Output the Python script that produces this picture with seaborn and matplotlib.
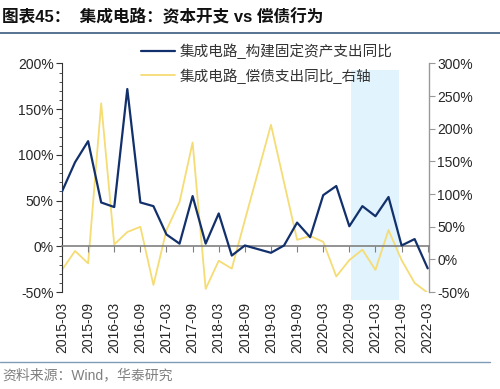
import matplotlib
matplotlib.use("Agg")
import matplotlib.pyplot as plt
from matplotlib.lines import Line2D
from matplotlib.ticker import MultipleLocator, FuncFormatter
import seaborn as sns
import pandas as pd

# quarterly data, 2015-03 .. 2022-03
quarters = ["2015-03", "2015-06", "2015-09", "2015-12", "2016-03", "2016-06", "2016-09", "2016-12",
            "2017-03", "2017-06", "2017-09", "2017-12", "2018-03", "2018-06", "2018-09", "2018-12",
            "2019-03", "2019-06", "2019-09", "2019-12", "2020-03", "2020-06", "2020-09", "2020-12",
            "2021-03", "2021-06", "2021-09", "2021-12", "2022-03"]
capex_yoy = [60, 92, 115, 48, 43, 172, 48, 44, 13, 3, 55, 3, 36, -10, 1, -3,
             -7, 1, 26, 10, 56, 66, 22, 44, 33, 54, 1, 8, -24]
debt_yoy = [-16, 13, -6, 239, 23, 42, 50, -39, 45, 88, 179, -45, -2, -14, 60, 133,
            206, 118, 30, 36, 27, -26, -1, 15, -16, 45, -1, -36, -51]
shade_span = (22.1, 25.8)

label_capex = "集成电路_构建固定资产支出同比"
label_debt = "集成电路_偿债支出同比_右轴"
title = "图表45：  集成电路：资本开支 vs 偿债行为"
source = "资料来源：Wind，华泰研究"

BLUE = "#12306B"
YELLOW = "#F5DC74"
SHADE = "#E1F3FC"

sns.set_style("white")
plt.rcParams["font.family"] = ["Liberation Sans", "Noto Sans CJK SC", "DejaVu Sans"]

df = pd.DataFrame({"q": range(len(quarters)), "capex": capex_yoy, "debt": debt_yoy})

fig = plt.figure(figsize=(5, 3.89), dpi=100)
ax = fig.add_axes([0.124, 0.249, 0.734, 0.588])
ax2 = ax.twinx()

# shade and right-axis line live on the lower axes
ax2.axvspan(shade_span[0], shade_span[1], ymin=-0.035, ymax=0.969, color=SHADE,
            lw=0, zorder=0, clip_on=False)
sns.lineplot(data=df, x="q", y="debt", ax=ax2, color=YELLOW, lw=1.3, zorder=2)
sns.lineplot(data=df, x="q", y="capex", ax=ax, color=BLUE, lw=1.6, zorder=3)
ax.set_zorder(ax2.get_zorder() + 1)
ax.patch.set_visible(False)

pct = FuncFormatter(lambda v, p: f"{v:.0f}%")

ax.set_xlim(0, len(quarters) - 1 + 0.1)
ax.set_ylim(-50, 200)
ax.yaxis.set_major_locator(MultipleLocator(50))
ax.yaxis.set_minor_locator(MultipleLocator(10))
ax.yaxis.set_major_formatter(pct)
ax.tick_params(axis="y", which="major", direction="out", length=4, width=0.8,
               color="#333333", labelsize=10, pad=2, left=True)
ax.tick_params(axis="y", which="minor", direction="out", length=2, width=0.6,
               color="#333333", left=True)

ax.set_xticks(range(0, len(quarters), 2))
ax.set_xticklabels(quarters[::2])
ax.tick_params(axis="x", direction="out", length=4, width=0.8, color="#808080",
               labelsize=10, pad=36, bottom=True, labelrotation=90)

ax2.set_ylim(-50, 300)
ax2.yaxis.set_major_locator(MultipleLocator(50))
ax2.yaxis.set_major_formatter(pct)
ax2.tick_params(axis="y", direction="out", length=4, width=0.8, color="#999999",
                labelsize=10, pad=2, right=True)

for s in ["top", "right"]:
    ax.spines[s].set_visible(False)
ax.spines["left"].set_color("#333333")
ax.spines["left"].set_linewidth(0.8)
ax.spines["bottom"].set_position(("data", 0))
ax.spines["bottom"].set_color("#808080")
ax.spines["bottom"].set_linewidth(1.2)
for s in ["top", "left", "bottom"]:
    ax2.spines[s].set_visible(False)
ax2.spines["right"].set_color("#999999")
ax2.spines["right"].set_linewidth(1.0)
ax.set_xlabel("")
ax.set_ylabel("")
ax2.set_ylabel("")

handles = [Line2D([], [], color=BLUE, lw=1.6), Line2D([], [], color=YELLOW, lw=1.3)]
fig.legend(handles, [label_capex, label_debt], loc="upper left",
           bbox_to_anchor=(0.268, 0.907), frameon=False, fontsize=10.5,
           handlelength=2.3, handletextpad=0.3, labelspacing=0.6, borderpad=0,
           labelcolor="#333333")

fig.text(0.005, 0.958, title, fontsize=12, fontweight="bold", color="#111111", va="center")
fig.add_artist(Line2D([0, 1], [0.915, 0.915], color="#3B5A80", lw=1.2))
fig.add_artist(Line2D([0, 0.98], [0.07, 0.07], color="#7F9DB9", lw=1.0))
fig.text(0.005, 0.035, source, fontsize=10, color="#808080", va="center")

fig.savefig("out.png", dpi=100)
